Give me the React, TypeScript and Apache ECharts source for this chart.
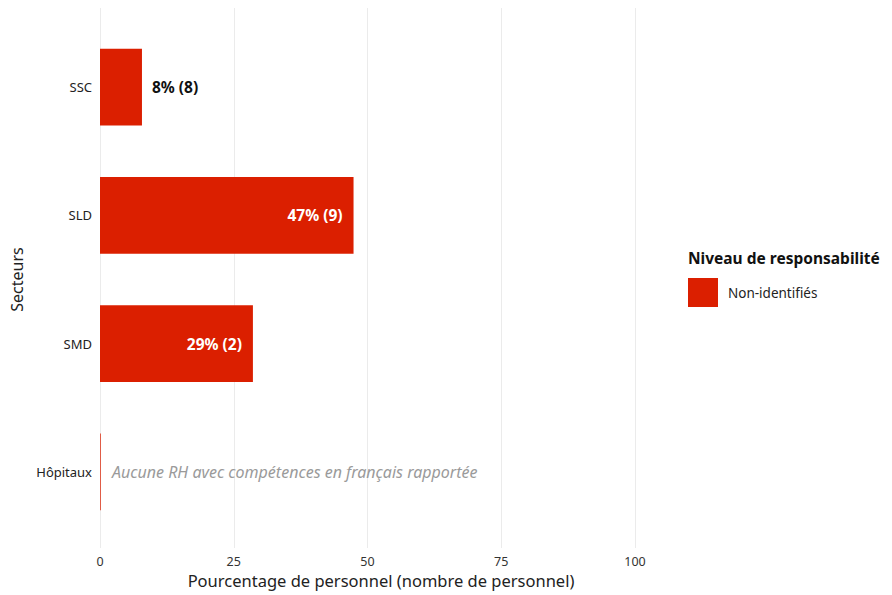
import React, { useEffect, useRef } from "react";
import * as echarts from "echarts";

const categories = ["Hôpitaux", "SMD", "SLD", "SSC"];
const shares = [0, 28.57, 47.37, 7.84];
const counts = [0, 2, 9, 8];
const tickValues = [0, 25, 50, 75, 100];
const legendName = "Non-identifiés";
const emptyNote = "Aucune RH avec compétences en français rapportée";

const FONT = "'Noto Sans', Lato, sans-serif";
const RED = "#DB1F00";

export default function App() {
  const ref = useRef<HTMLDivElement>(null);
  useEffect(() => {
    if (!ref.current) return;
    const chart = echarts.init(ref.current, null, { renderer: "svg" });
    const data = shares.map((v, i) => {
      const item: any = { value: v };
      if (counts[i] === 0) {
        item.itemStyle = { color: "rgba(219,31,0,0.7)" };
        item.label = {
          show: true,
          position: "right",
          distance: 11,
          formatter: emptyNote,
          color: "#9a9a9a",
          fontStyle: "italic",
          fontWeight: "normal",
          fontSize: 16,
          fontFamily: FONT,
        };
      } else if (v < 15) {
        item.label = {
          show: true,
          position: "right",
          distance: 10,
          color: "#111",
          fontWeight: "bold",
          fontSize: 15.5,
          fontFamily: FONT,
        };
      } else {
        item.label = {
          show: true,
          position: "insideRight",
          distance: 11,
          color: "#fff",
          fontWeight: "bold",
          fontSize: 15.5,
          fontFamily: FONT,
        };
      }
      return item;
    });
    chart.setOption({
      animation: false,
      backgroundColor: "#fff",
      title: {
        text: "Niveau de responsabilité",
        left: 688,
        top: 250,
        padding: 0,
        textStyle: { fontFamily: FONT, fontSize: 15.5, fontWeight: "bold", color: "#111" },
      },
      legend: {
        left: 688,
        top: 278,
        padding: 0,
        orient: "vertical",
        itemWidth: 30,
        itemHeight: 29,
        itemGap: 6,
        data: [{ name: legendName, icon: "rect" }],
        textStyle: { fontFamily: FONT, fontSize: 13.5, color: "#222", padding: [0, 0, 0, 5] },
        selectedMode: false,
      },
      grid: [
        { left: 100, right: 230, top: 23, bottom: 59, containLabel: false },
        { left: 100, right: 257, top: 8, bottom: 47, containLabel: false },
      ],
      xAxis: [
        {
          type: "value",
          gridIndex: 0,
          min: 0,
          max: 105,
          axisLabel: { show: false },
          axisLine: { show: false },
          axisTick: { show: false },
          splitLine: { show: false },
          name: "Pourcentage de personnel (nombre de personnel)",
          nameLocation: "middle",
          nameGap: 36,
          nameTextStyle: { fontFamily: FONT, fontSize: 16.5, color: "#222" },
        },
        {
          type: "value",
          gridIndex: 1,
          min: tickValues[0],
          max: tickValues[tickValues.length - 1],
          interval: 25,
          axisLabel: {
            fontFamily: FONT,
            fontSize: 12.5,
            color: "#333",
            margin: 7,
          },
          axisLine: { show: false },
          axisTick: { show: false },
          splitLine: { show: true, lineStyle: { color: "#ebebeb", width: 1 } },
        },
      ],
      yAxis: [
        {
          type: "category",
          gridIndex: 0,
          data: categories,
          axisLine: { show: false },
          axisTick: { show: false },
          axisLabel: { fontFamily: FONT, fontSize: 13, color: "#222", margin: 8 },
          name: "Secteurs",
          nameLocation: "middle",
          nameGap: 72,
          nameRotate: 90,
          nameTextStyle: { fontFamily: FONT, fontSize: 16, color: "#222" },
        },
        {
          type: "category",
          gridIndex: 1,
          data: categories,
          show: false,
        },
      ],
      series: [
        {
          name: legendName,
          type: "bar",
          xAxisIndex: 0,
          yAxisIndex: 0,
          barWidth: "60%",
          barMinHeight: 1,
          itemStyle: { color: RED },
          label: {
            show: true,
            formatter: (p: any) => `${Math.round(p.value)}% (${counts[p.dataIndex]})`,
          },
          data,
        },
      ],
    });
    return () => chart.dispose();
  }, []);
  return (
    <div
      ref={ref}
      style={{ position: "fixed", left: 0, top: 0, width: 892, height: 595 }}
    />
  );
}
